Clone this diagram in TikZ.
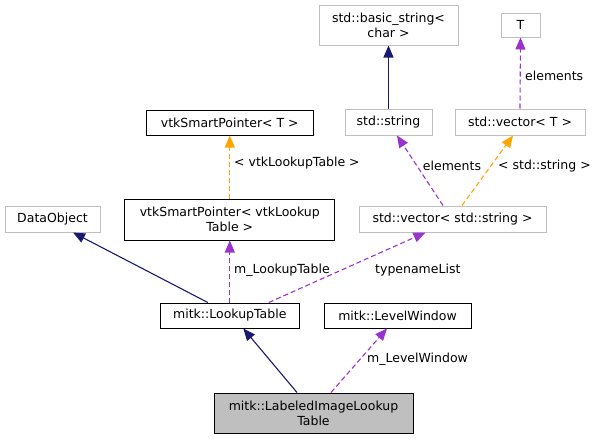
\documentclass[tikz,border=0pt]{standalone}
\usepackage{fontspec}
\setmainfont{DejaVu Sans}
\usetikzlibrary{arrows.meta}
\definecolor{navyc}{HTML}{191970}
\definecolor{orch}{HTML}{9A32CD}
\definecolor{orng}{HTML}{FFA500}
\definecolor{gborder}{HTML}{BFBFBF}
\definecolor{gfill}{HTML}{BFBFBF}
\tikzset{
  box/.style={draw=black, line width=1pt, inner sep=0pt, minimum height=25pt,
    font=\fontsize{12.5}{15}\selectfont, align=center},
  gbox/.style={box, draw=gborder},
  lbl/.style={font=\fontsize{12.5}{15}\selectfont, inner sep=0pt},
  tipa/.style={-{Triangle[length=12pt,width=10pt]}},
  inh/.style={draw=navyc, line width=1.1pt, tipa},
  usee/.style={draw=orch, line width=1.1pt, dash pattern=on 5pt off 3pt, tipa},
  tmpl/.style={draw=orng, line width=1.1pt, dash pattern=on 5pt off 3pt, tipa},
}
\begin{document}
\begin{tikzpicture}[x=1pt,y=-1pt]
\useasboundingbox (0,0) rectangle (598,439);
% nodes
\node[gbox, minimum width=139pt, minimum height=40pt] (bstr) at (388.5,25) {std::basic\_string<\\char >};
\node[gbox, minimum width=39pt, minimum height=24pt] (T) at (520.5,25) {T};
\node[box, minimum width=167pt] (vtkT) at (229.8,122.5) {vtkSmartPointer< T >};
\node[gbox, minimum width=87pt, minimum height=26pt] (str) at (388.5,122) {std::string};
\node[gbox, minimum width=130pt, minimum height=26pt] (vecT) at (520,122) {std::vector< T >};
\node[gbox, minimum width=95pt, minimum height=26pt] (dobj) at (52.5,219) {DataObject};
\node[box, minimum width=210pt, minimum height=41pt] (vtkLT) at (229.8,219.5) {vtkSmartPointer< vtkLookup\\Table >};
\node[gbox, minimum width=187pt, minimum height=26pt] (vecstr) at (452.5,219) {std::vector< std::string >};
\node[box, minimum width=139pt] (lut) at (229.8,315.5) {mitk::LookupTable};
\node[box, minimum width=147pt] (lw) at (397.5,315.5) {mitk::LevelWindow};
\node[box, fill=gfill, minimum width=199pt, minimum height=40pt] (lit) at (313.5,413) {mitk::LabeledImageLookup\\Table};
% edges
\draw[inh] (str.north) -- (bstr.south);
\draw[usee] (vecT.north) -- (T.south);
\draw[tmpl] (vtkLT.north) -- (vtkT.south);
\draw[usee] ([xshift=-9.5pt]vecstr.north) -- ([xshift=8.5pt]str.south);
\draw[tmpl] ([xshift=9.5pt]vecstr.north) -- ([xshift=-7pt]vecT.south);
\draw[inh] ([xshift=-22pt]lut.north) -- ([xshift=20.5pt]dobj.south);
\draw[usee] (lut.north) -- (vtkLT.south);
\draw[usee] ([xshift=39pt]lut.north) -- ([xshift=-27pt]vecstr.south);
\draw[inh] ([xshift=-16.5pt]lit.north) -- ([xshift=13.5pt]lut.south);
\draw[usee] ([xshift=17.5pt]lit.north) -- ([xshift=-10.5pt]lw.south);
% labels
\node[lbl, anchor=west] (l1) at (525,76) {elements};
\node[lbl, anchor=west] (l2) at (234,163) {< vtkLookupTable >};
\node[lbl] (l3) at (452,166) {elements};
\node[lbl, anchor=west] (l4) at (498,166) {< std::string >};
\node[lbl, anchor=west] (l5) at (234,270) {m\_LookupTable};
\node[lbl, anchor=west] (l6) at (375,270) {typenameList};
\node[lbl, anchor=west] (l7) at (367,359) {m\_LevelWindow};
\end{tikzpicture}
\end{document}
